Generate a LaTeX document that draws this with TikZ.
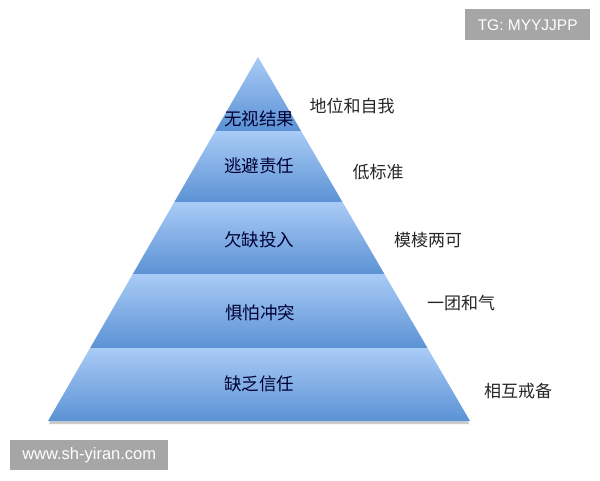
\documentclass[tikz,border=0pt]{standalone}
\usepackage{fontspec}
\newfontfamily\cjk{Noto Sans CJK SC}
\setsansfont{Liberation Sans}
\usetikzlibrary{calc}
\definecolor{bandtop}{HTML}{A9CBF6}
\definecolor{bandbot}{HTML}{5B92D4}
\definecolor{wmgray}{HTML}{A6A6A6}
\tikzset{
  band/.style={top color=bandtop, bottom color=bandbot, draw=none},
  inlabel/.style={font=\cjk\fontsize{17.5}{19}\selectfont, text=black!80!blue, inner sep=0pt},
  outlabel/.style={font=\cjk\fontsize{17}{19}\selectfont, text=black!85, inner sep=0pt},
  wmbox/.style={fill=wmgray, text=white, inner sep=0pt, anchor=north west}
}
\begin{document}
\begin{tikzpicture}[x=1pt,y=-1pt]
\useasboundingbox[fill=white] (0,0) rectangle (600,480);
\coordinate (A) at (258,57);
\coordinate (BL) at (48,421);
\coordinate (BR) at (470,421);
\foreach \n/\t in {1/0.2033,2/0.3984,3/0.5962,4/0.7995}{
  \coordinate (L\n) at ($(A)!\t!(BL)$);
  \coordinate (R\n) at ($(A)!\t!(BR)$);
}
% shadow
\fill[black!20] ($(BL)+(2,0)$) -- ($(BR)+(-2,0)$) -- ($(BR)+(-1,3)$) -- ($(BL)+(1,3)$) -- cycle;
% bands
\shade[band] (A) -- (R1) -- (L1) -- cycle;
\shade[band] (L1) -- (R1) -- (R2) -- (L2) -- cycle;
\shade[band] (L2) -- (R2) -- (R3) -- (L3) -- cycle;
\shade[band] (L3) -- (R3) -- (R4) -- (L4) -- cycle;
\shade[band] (L4) -- (R4) -- (BR) -- (BL) -- cycle;
% inner labels
\node[inlabel] (t1) at (259,119) {无视结果};
\node[inlabel] (t2) at (259,166) {逃避责任};
\node[inlabel] (t3) at (259,240) {欠缺投入};
\node[inlabel] (t4) at (260,313) {惧怕冲突};
\node[inlabel] (t5) at (259,384) {缺乏信任};
% outer labels
\node[outlabel] (o1) at (352,106) {地位和自我};
\node[outlabel] (o2) at (378,172) {低标准};
\node[outlabel] (o3) at (428,240) {模棱两可};
\node[outlabel] (o4) at (461,303) {一团和气};
\node[outlabel] (o5) at (518,391) {相互戒备};
% watermarks
\node[wmbox, minimum width=125, minimum height=31, font=\sffamily\fontsize{15.5}{17}\selectfont] (w1) at (465,9) {TG: MYYJJPP};
\node[wmbox, minimum width=158, minimum height=30, font=\sffamily\fontsize{16.5}{18}\selectfont] (w2) at (10,440) {www.sh-yiran.com};
\end{tikzpicture}
\end{document}
